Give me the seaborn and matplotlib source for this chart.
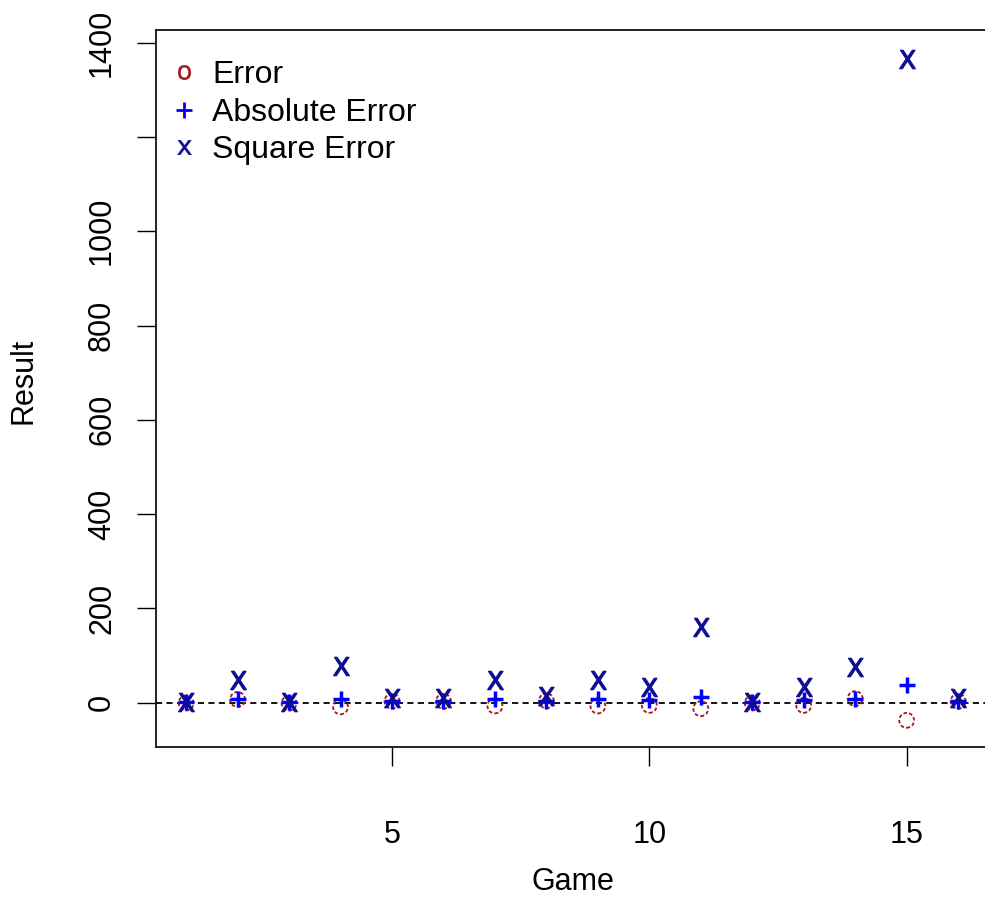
import numpy as np
import pandas as pd
import seaborn as sns
import matplotlib
matplotlib.use("Agg")
import matplotlib.pyplot as plt
from matplotlib.lines import Line2D

# Per-game prediction errors and the derived error measures
games = [1, 2, 3, 4, 5, 6, 7, 8, 9, 10, 11, 12, 13, 14, 15, 16]
error = [-0.8, 6.9, -1.2, -8.8, 3.1, 3.0, -6.9, 3.9, -6.9, -5.7, -12.7, -0.7, -5.7, 8.7, -37.4, 3.0]
abs_error = [0.8, 6.9, 1.2, 8.8, 3.1, 3.0, 6.9, 3.9, 6.9, 5.7, 12.7, 0.7, 5.7, 8.7, 37.4, 3.0]
square_error = [0.6, 47.6, 1.4, 77.4, 9.6, 9.0, 47.6, 15.2, 47.6, 32.5, 161.3, 0.5, 32.5, 75.7, 1366.0, 9.0]

series_labels = ["Error", "Absolute Error", "Square Error"]
x_ticks = [5, 10, 15]
y_ticks = [0, 200, 400, 600, 800, 1000, 1200, 1400]
y_tick_labels = ["0", "200", "400", "600", "800", "1000", "", "1400"]

df = pd.DataFrame({
    "Game": games,
    "Error": error,
    "Absolute Error": abs_error,
    "Square Error": square_error,
})

sns.set_style("ticks")
plt.rcParams["font.family"] = ["Liberation Sans", "DejaVu Sans"]
plt.rcParams["mathtext.fontset"] = "dejavusans"
plt.rcParams["text.color"] = "black"

W, H = 985, 898
fig = plt.figure(figsize=(W / 100, H / 100), dpi=100)
fig.patch.set_facecolor("white")

left_px, right_px, top_px, bottom_px = 156, 989, 30, 747.3
ax = fig.add_axes([left_px / W, 1 - bottom_px / H,
                   (right_px - left_px) / W, (bottom_px - top_px) / H])
ax.set_facecolor("white")

c_err = "#A01A1E"
c_abs = "#0000FF"
c_sq = "#0E0E90"

# zero reference line
ax.axhline(0, color="black", lw=1.3, ls=(0, (3.4, 2.4)), zorder=1)

sns.scatterplot(data=df, x="Game", y="Error", ax=ax, marker="o", s=115,
                color="none", edgecolor=c_err, linewidth=1.3,
                linestyle=(0, (2.0, 1.2)), zorder=3)
sns.scatterplot(data=df, x="Game", y="Absolute Error", ax=ax, marker="+", s=135,
                color=c_abs, edgecolor=c_abs, linewidth=2.5, zorder=4)
sns.scatterplot(data=df, x="Game", y="Square Error", ax=ax, marker=r"$\mathsf{X}$",
                s=175, color=c_sq, edgecolor=c_sq, linewidth=0.9, zorder=5)

ax.set_xlim(0.415, 16.6)
ax.set_ylim(-94.6, 1427)

ax.set_xticks(x_ticks)
ax.set_xticklabels([str(t) for t in x_ticks])
ax.set_yticks(y_ticks)
ax.set_yticklabels(y_tick_labels, rotation=90, va="center")

ax.tick_params(axis="both", direction="out", length=14, width=1.0,
               color="black", labelsize=22, labelcolor="black")
ax.tick_params(axis="y", pad=14)
ax.tick_params(axis="x", pad=38)

for sp in ax.spines.values():
    sp.set_visible(True)
    sp.set_color("#111111")
    sp.set_linewidth(1.3)

ax.set_xlabel("Game", fontsize=22, color="black")
ax.set_ylabel("Result", fontsize=22, color="black")
ax.xaxis.set_label_coords(0.5, (bottom_px - 882) / (bottom_px - top_px))
ax.xaxis.label.set_va("center")
ax.yaxis.set_label_coords((23 - left_px) / (right_px - left_px),
                          (bottom_px - 381) / (bottom_px - top_px))
ax.yaxis.label.set_va("center")

handles = [
    Line2D([], [], ls="none", marker=r"$\mathsf{o}$", color=c_err, markersize=10.5,
           markeredgewidth=0.3),
    Line2D([], [], ls="none", marker="+", color=c_abs, markersize=12, markeredgewidth=2.0),
    Line2D([], [], ls="none", marker=r"$\mathsf{x}$", color=c_sq, markersize=10.5,
           markeredgewidth=0.3),
]
leg = ax.legend(handles, series_labels, loc="upper left",
                bbox_to_anchor=(0.0178, 0.9575), frameon=False, fontsize=23,
                handlelength=0.8, handletextpad=0.5, labelspacing=0.235,
                borderpad=0, borderaxespad=0)
for t in leg.get_texts():
    t.set_color("black")

fig.savefig("out.png", dpi=100, facecolor="white")
